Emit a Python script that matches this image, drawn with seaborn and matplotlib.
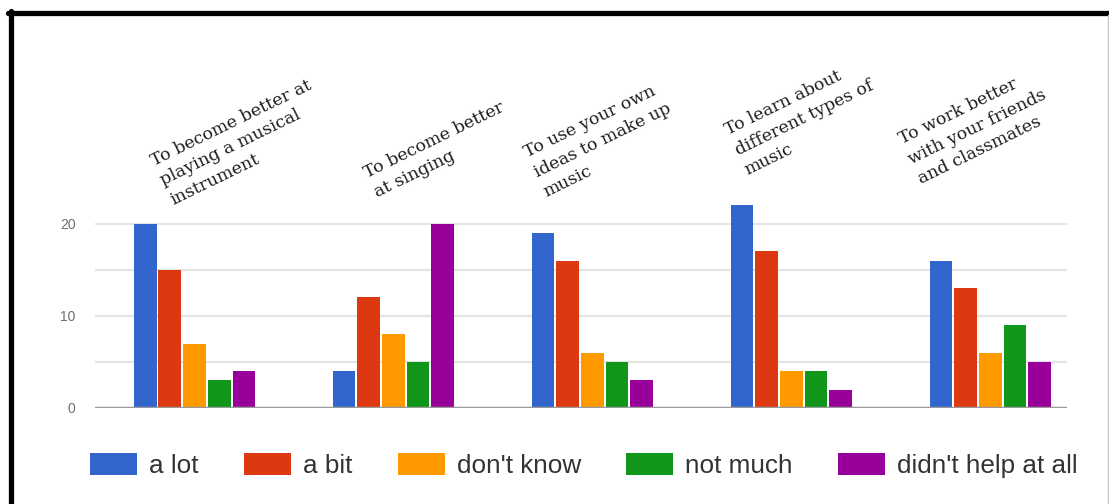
import matplotlib
matplotlib.use("Agg")
import matplotlib.pyplot as plt
import seaborn as sns
import pandas as pd
from matplotlib.lines import Line2D

# data
categories = [
    "To become better at\nplaying a musical\ninstrument",
    "To become better\nat singing",
    "To use your own\nideas to make up\nmusic",
    "To learn about\ndifferent types of\nmusic",
    "To work better\nwith your friends\nand classmates",
]
responses = ["a lot", "a bit", "don't know", "not much", "didn't help at all"]
a_lot = [20, 4, 19, 22, 16]
a_bit = [15, 12, 16, 17, 13]
dont_know = [7, 8, 6, 4, 6]
not_much = [3, 5, 5, 4, 9]
didnt_help = [4, 20, 3, 2, 5]
y_ticks = [0, 10, 20]

colors = ["#3366CC", "#DC3912", "#FF9900", "#109618", "#990099"]

rows = []
for resp, vals in zip(responses, [a_lot, a_bit, dont_know, not_much, didnt_help]):
    for cat, v in zip(categories, vals):
        rows.append({"category": cat, "response": resp, "count": v})
df = pd.DataFrame(rows)

sns.set_style("white")
plt.rcParams["font.family"] = ["Liberation Sans", "DejaVu Sans"]

fig = plt.figure(figsize=(11.09, 5.04), dpi=100)
ax = fig.add_axes([0.0857, 0.1905, 0.8763, 0.4385])

sns.barplot(data=df, x="category", y="count", hue="response",
            order=categories, hue_order=responses, palette=colors,
            width=0.62, gap=0.08, linewidth=0, saturation=1, ax=ax)

ax.set_xlim(-0.5, 4.385)
ax.set_ylim(0, 24)
ax.set_yticks(y_ticks)
ax.set_yticks([5, 15], minor=True)
ax.grid(True, axis="y", which="both", color="#e4e4e4", linewidth=1.5)
ax.set_axisbelow(True)
ax.axhline(0, color="#9a9a9a", linewidth=2.5, zorder=5)
for s in ax.spines.values():
    s.set_visible(False)
ax.set_xlabel("")
ax.set_ylabel("")
ax.set_xticks([])
ax.tick_params(axis="y", which="both", length=0, pad=14, labelsize=10,
               labelcolor="#6f6f6f")

# rotated category labels above the groups
label_offsets = [(0.234, 28.8), (0.229, 28.0), (0.05, 29.1), (0.065, 31.5), (-0.065, 30.5)]
for i, (cat, (dx, y)) in enumerate(zip(categories, label_offsets)):
    ax.text(i + dx, y, cat, rotation=26, rotation_mode="anchor",
            ha="center", va="center", multialignment="left",
            family="DejaVu Serif", fontsize=12.5, color="#1e1e1e",
            linespacing=1.4, clip_on=False)

# legend at the bottom
handles, labels = ax.get_legend_handles_labels()
ax.legend_.remove()
fig.legend(handles, labels, loc="center left", bbox_to_anchor=(90 / 1109, 0.077),
           ncol=5, frameon=False, borderpad=0, borderaxespad=0,
           prop={"family": "Liberation Sans", "size": 18.8},
           labelcolor="#333333", handlelength=1.8, handleheight=0.95,
           handletextpad=0.45, columnspacing=1.75)

# frame around the picture
fig.add_artist(Line2D([8 / 1109, 1], [0.974, 0.974], color="black", linewidth=3.8,
                      transform=fig.transFigure))
fig.add_artist(Line2D([10.5 / 1109, 10.5 / 1109], [0, 0.978], color="black",
                      linewidth=3.8, transform=fig.transFigure))
fig.add_artist(Line2D([1107.5 / 1109, 1107.5 / 1109], [0, 0.97], color="#c8c8c8",
                      linewidth=1, transform=fig.transFigure))

fig.savefig("out.png", dpi=100)
